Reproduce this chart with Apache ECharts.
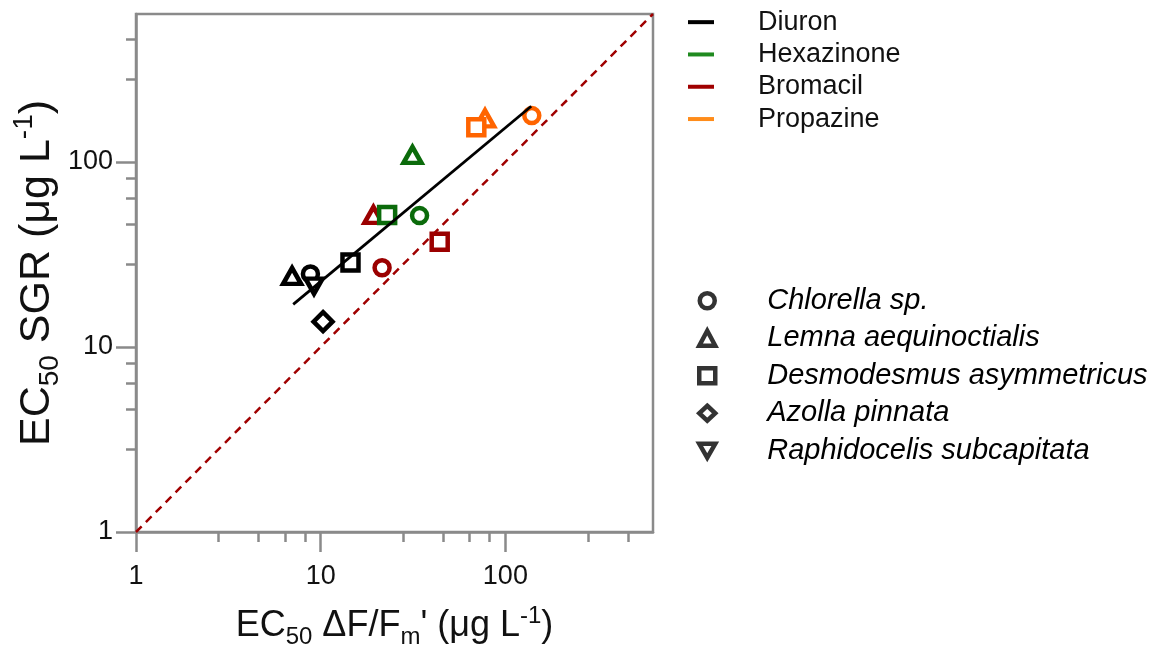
<!DOCTYPE html>
<html>
<head>
<meta charset="utf-8">
<script src="https://cdn.jsdelivr.net/npm/echarts@6/dist/echarts.min.js"></script>
<style>
html,body{margin:0;padding:0;background:#fff;}
#chart{width:1160px;height:648px;}
</style>
</head>
<body>
<div id="chart"></div>
<script>
// ---- data ----
const herbicides = ['Diuron', 'Hexazinone', 'Bromacil', 'Propazine'];
const species = ['Chlorella sp.', 'Lemna aequinoctialis', 'Desmodesmus asymmetricus', 'Azolla pinnata', 'Raphidocelis subcapitata'];

// EC50 dF/Fm' (x) and EC50 SGR (y), ordered as in species list (null = not tested)
const diuronX = [8.8, 7.0, 14.5, 10.3, 9.2];
const diuronY = [24.8, 24.2, 28.6, 13.7, 21.3];
const hexazinoneX = [34.3, 31.4, 22.9, null, null];
const hexazinoneY = [51.3, 109, 51.7, null, null];
const bromacilX = [21.5, 19.3, 44.1, null, null];
const bromacilY = [26.8, 51.7, 37.0, null, null];
const propazineX = [139, 77.6, 69.6, null, null];
const propazineY = [178, 172, 154, null, null];

// fitted line (log-log) and 1:1 reference line
const fitX = [7.1, 138];
const fitY = [17.0, 200];
const oneToOneX = [1, 630];
const oneToOneY = [1, 630];

const majorTicks = [1, 10, 100];
const axisMin = 1, axisMax = 630;

// ---- styles ----
const herbColors = ['#000000', '#0b6b0b', '#9b0000', '#ff6400'];
const legendLineColors = ['#000000', '#1f8a1f', '#a00000', '#ff8c1a'];
const downTri = 'path://M0,0 L10,0 L5,8.66 Z';
const speciesSymbols = ['circle', 'triangle', 'rect', 'diamond', downTri];
const speciesSizes = [15, [18, 16], 16, 19, [17, 15]];

const FONT = '"Liberation Sans", Arial, Helvetica, sans-serif';

function pts(xs, ys) {
  const out = [];
  xs.forEach((x, i) => {
    if (x == null || ys[i] == null) return;
    out.push({ value: [x, ys[i]], symbol: speciesSymbols[i], symbolSize: speciesSizes[i] });
  });
  return out;
}
function pairs(xs, ys) { return xs.map((x, i) => [x, ys[i]]); }

const herbData = [pts(diuronX, diuronY), pts(hexazinoneX, hexazinoneY), pts(bromacilX, bromacilY), pts(propazineX, propazineY)];

const series = [];
herbicides.forEach((h, k) => {
  series.push({
    name: h, type: 'scatter', z: 2 + (k === 1 ? 1 : 0),
    data: herbData[k],
    itemStyle: { color: '#ffffff', borderColor: herbColors[k], borderWidth: 4.5, opacity: 1 },
    emphasis: { disabled: true }
  });
});
species.forEach((s, i) => {
  series.push({ name: s, type: 'scatter', data: [], symbol: speciesSymbols[i],
    itemStyle: { color: '#fff', borderColor: '#000', borderWidth: 4.5 } });
});
series.push({
  name: 'fit', type: 'line', data: pairs(fitX, fitY), showSymbol: false, z: 5,
  lineStyle: { color: '#000', width: 2.8 }, silent: true
});
series.push({
  name: '1:1', type: 'line', data: pairs(oneToOneX, oneToOneY), showSymbol: false, z: 4,
  lineStyle: { color: '#a00000', width: 2.5, type: [8, 6] }, silent: true
});

const axisCommon = {
  type: 'log', logBase: 10, min: axisMin, max: axisMax,
  axisLine: { show: true, lineStyle: { color: '#8a8a8a', width: 2.5 } },
  axisTick: { show: true, inside: false, length: 20, customValues: majorTicks, lineStyle: { color: '#8a8a8a', width: 2.5 } },
  minorTick: { show: true, splitNumber: 5, length: 10, lineStyle: { color: '#8a8a8a', width: 2.5 } },
  splitLine: { show: false }, minorSplitLine: { show: false },
};

function richName(base, small) {
  return {
    a: { fontSize: base, fontFamily: FONT, color: '#111', lineHeight: Math.round(base * 1.25), verticalAlign: 'middle' },
    sub: { fontSize: small, fontFamily: FONT, color: '#111', lineHeight: small, verticalAlign: 'bottom' },
    sup: { fontSize: small, fontFamily: FONT, color: '#111', lineHeight: small, verticalAlign: 'top' }
  };
}

const option = {
  backgroundColor: '#ffffff',
  animation: false,
  grid: { left: 136, top: 14, right: 507, bottom: 116, show: true, borderColor: '#8a8a8a', borderWidth: 2.5, outerBoundsMode: 'none', containLabel: false },
  xAxis: Object.assign({}, axisCommon, {
    axisLabel: { customValues: majorTicks, fontSize: 27, fontFamily: FONT, color: '#111', margin: 31 },
    name: "{a|EC}{sub|50}{a| ΔF/F}{sub|m}{a|' (μg L}{sup|-1}{a|)}",
    nameLocation: 'middle', nameGap: 72,
    nameTextStyle: { rich: richName(36, 24) }
  }),
  yAxis: Object.assign({}, axisCommon, {
    axisLabel: { customValues: majorTicks, fontSize: 27, fontFamily: FONT, color: '#111', margin: 23 },
    name: "{a|EC}{sub|50}{a| SGR (μg L}{sup|-1}{a|)}",
    nameLocation: 'middle', nameGap: 70, nameRotate: 90,
    nameTextStyle: { rich: richName(43, 28) }
  }),
  legend: [
    {
      left: 683, top: 1, orient: 'vertical', itemGap: 0, itemWidth: 26, itemHeight: 4,
      selectedMode: false,
      textStyle: { fontSize: 27, fontFamily: FONT, color: '#111', lineHeight: 32.3, padding: [0, 0, 0, 39] },
      data: herbicides.map((h, k) => ({ name: h, icon: 'rect', itemStyle: { color: legendLineColors[k], borderWidth: 0 } }))
    },
    {
      left: 692, top: 277, orient: 'vertical', itemGap: 0, itemWidth: 16, itemHeight: 15,
      selectedMode: false,
      itemStyle: { color: '#fff', borderColor: '#000', borderWidth: 4.5 },
      textStyle: { fontSize: 29, fontFamily: FONT, fontStyle: 'italic', color: '#000', lineHeight: 37.5, padding: [0, 0, 0, 47] },
      data: species.map((s, i) => ({ name: s, icon: speciesSymbols[i], itemStyle: { color: '#fff', borderColor: '#000', borderWidth: 4.5 } }))
    }
  ],
  series: series
};

const chart = echarts.init(document.getElementById('chart'), null, { renderer: 'canvas' });
chart.setOption(option);
</script>
</body>
</html>
